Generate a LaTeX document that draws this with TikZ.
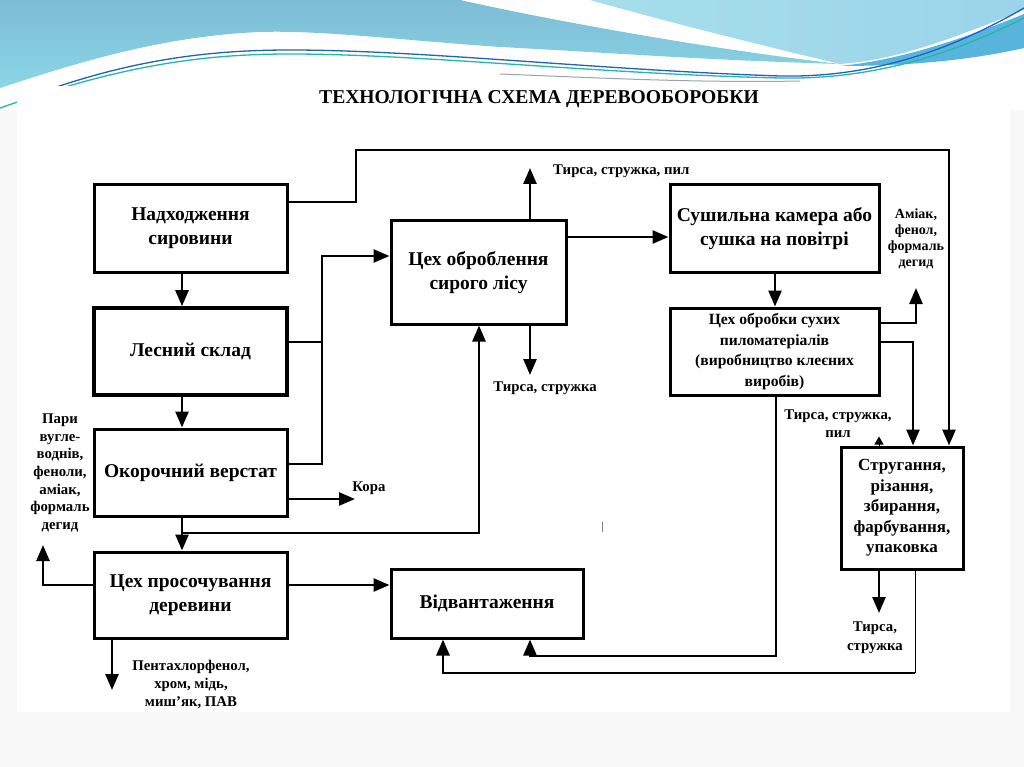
\documentclass[tikz,border=0pt]{standalone}
\usepackage{fontspec}
\setmainfont{Liberation Serif}
\usetikzlibrary{arrows.meta}
\newcommand\fntbig{\fontsize{19.5}{24}\selectfont\bfseries}
\newcommand\fntmid{\fontsize{15.6}{20.5}\selectfont\bfseries}
\newcommand\fntstr{\fontsize{17}{20.5}\selectfont\bfseries}
\newcommand\fntsm{\fontsize{14.8}{17.6}\selectfont\bfseries}
\newcommand\fntsmb{\fontsize{14}{15.8}\selectfont\bfseries}
\newcommand\fntttl{\fontsize{19.6}{24}\selectfont\bfseries}
\definecolor{wblueA}{HTML}{7DBCD6}
\definecolor{wblueB}{HTML}{8AD6E5}
\definecolor{wcyanA}{HTML}{A6DFEA}
\definecolor{wcyanB}{HTML}{9BD3EA}
\definecolor{wband}{HTML}{58B4DC}
\definecolor{wline}{HTML}{1E63C0}
\definecolor{wteal}{HTML}{22B8A8}
\definecolor{wgray}{HTML}{9AA4A8}
\definecolor{pagebg}{HTML}{F8F8F8}
\begin{document}
\begin{tikzpicture}[x=1pt,y=-1pt,
  box/.style={draw, line width=3pt, align=center, inner sep=0pt, font=\fntbig},
  arr/.style={line width=2.6pt, -{Triangle[length=16pt,width=13pt]}},
  ln/.style={line width=2.6pt},
  lbl/.style={align=center, inner sep=0pt, font=\fntsm}]
\useasboundingbox (0,0) rectangle (1024,767);
% background
\fill[pagebg] (0,0) rectangle (1024,767);
\fill[white] (0,0) rectangle (1024,110);
\shade[top color=wblueA, bottom color=wblueB]
  (0,0) -- (460,0) .. controls (540,18) and (700,48) .. (840,64)
  .. controls (700,60) and (600,52) .. (500,47)
  .. controls (400,40) and (320,30) .. (260,32)
  .. controls (160,36) and (70,65) .. (0,88) -- cycle;
\shade[left color=wcyanA, right color=wcyanB]
  (590,0) -- (1024,0) -- (1024,10) .. controls (960,35) and (900,60) .. (840,64)
  .. controls (760,45) and (660,20) .. (590,0) -- cycle;
\fill[wband]
  (1024,14) .. controls (960,40) and (900,60) .. (840,66)
  .. controls (920,66) and (980,58) .. (1024,48) -- cycle;
\draw[wline, line width=1.3pt]
  (20,100) .. controls (120,62) and (200,50) .. (290,50)
  .. controls (420,50) and (600,70) .. (780,76)
  .. controls (880,78) and (960,45) .. (1024,8);
\draw[wteal, line width=1.3pt]
  (0,108) .. controls (120,66) and (200,54) .. (290,54)
  .. controls (420,54) and (600,74) .. (780,78)
  .. controls (880,80) and (960,50) .. (1024,18);
\draw[wgray, line width=1pt]
  (500,74) .. controls (600,78) and (700,83) .. (800,81);
\fill[white] (17,86) rectangle (1010,712);
% title
\node[font=\fntttl] (title) at (539,99) {ТЕХНОЛОГІЧНА СХЕМА ДЕРЕВООБОРОБКИ};
% boxes
\node[box, minimum width=193pt, minimum height=87pt] (n1) at (190.5,228.5) {Надходження\\сировини};
\node[box, line width=3.6pt, minimum width=193pt, minimum height=87pt] (n2) at (190.5,351.5) {Лесний склад};
\node[box, minimum width=193pt, minimum height=87pt] (n3) at (190.5,472.5) {Окорочний верстат};
\node[box, minimum width=193pt, minimum height=86pt] (n4) at (190.5,595) {Цех просочування\\деревини};
\node[box, minimum width=175pt, minimum height=103pt] (n5) at (478.5,272.5) {Цех оброблення\\сирого лісу};
\node[box, minimum width=209pt, minimum height=87pt] (n6) at (774.5,228.5) {Сушильна камера або\\сушка на повітрі};
\node[box, font=\fntmid, minimum width=209pt, minimum height=87pt] (n7) at (774.5,351.5) {Цех обробки сухих\\пиломатеріалів\\(виробництво клеєних\\виробів)};
\node[box, font=\fntstr, minimum width=122pt, minimum height=122pt] (n8) at (902,508) {Стругання,\\різання,\\збирання,\\фарбування,\\упаковка};
\node[box, minimum width=192pt, minimum height=69pt] (n9) at (487,603.5) {Відвантаження};
% labels
\node[lbl] (lpari) at (60,473) {Пари\\вугле-\\воднів,\\феноли,\\аміак,\\формаль\\дегид};
\node[lbl] (lpent) at (191,684.5) {Пентахлорфенол,\\хром, мідь,\\миш'як, ПАВ};
\node[lbl, anchor=west] (ltop) at (553,171) {Тирса, стружка, пил};
\node[lbl] (lbot) at (545,388) {Тирса, стружка};
\node[lbl] (lkora) at (369,488) {Кора};
\node[lbl, font=\fntsmb] (lamiak) at (916,239) {Аміак,\\фенол,\\формаль\\дегид};
\node[lbl] (lts) at (838,423.5) {Тирса, стружка,\\пил};
\node[lbl, font=\fontsize{14.8}{19}\selectfont\bfseries] (ltsb) at (875,637.5) {Тирса,\\стружка};
% free ends
\coordinate (ekora) at (355,499);
\coordinate (epari) at (43,545);
\coordinate (epent) at (112,690);
\coordinate (etop) at (530,168);
\coordinate (ebot) at (530,375);
\coordinate (eamiak) at (916,288);
\coordinate (ets) at (879,613);
\coordinate (j1) at (182,533);
% connectors
\draw[arr] ([yshift=26.5pt]n1.east) -| (356,150) -| ([xshift=47pt]n8.north);
\draw[arr] ([xshift=-8.5pt]n1.south) -- ([xshift=-8.5pt]n2.north);
\draw[ln] ([yshift=9.5pt]n2.east) -- (322,342);
\draw[arr] ([yshift=8.5pt]n3.east) -| (322,256) -- ([yshift=16.5pt]n5.west);
\draw[arr] ([xshift=-8.5pt]n2.south) -- ([xshift=-8.5pt]n3.north);
\draw[arr] ([yshift=-26.5pt]n3.east) -- (ekora);
\draw[arr] ([xshift=-8.5pt]n3.south) -- ([xshift=-8.5pt]n4.north);
\draw[arr] (j1) -| ([xshift=0.5pt]n5.south);
\draw[arr] ([yshift=10pt]n4.west) -| (epari);
\draw[arr] ([yshift=10pt]n4.east) -- ([yshift=18.5pt]n9.west);
\draw[arr] ([xshift=-78.5pt]n4.south) -- (epent);
\draw[arr] ([xshift=51.5pt]n5.north) -- (etop);
\draw[arr] ([xshift=51.5pt]n5.south) -- (ebot);
\draw[arr] ([yshift=35.5pt]n5.east) -- ([yshift=-8.5pt]n6.west);
\draw[arr] ([xshift=0.5pt]n6.south) -- ([xshift=0.5pt]n7.north);
\draw[arr] ([yshift=28.5pt]n7.east) -| (eamiak);
\draw[arr] ([yshift=9.5pt]n7.east) -| ([xshift=11pt]n8.north);
\draw[arr] ([xshift=1.5pt]n7.south) -- (776,656) -| ([xshift=43pt]n9.south);
\draw[arr] ([xshift=-23pt]n8.south) -- (ets);
\draw[line width=0.9pt] ([xshift=13pt]n8.south) -- (915,673);
\draw[arr] (915,673) -| ([xshift=-44pt]n9.south);
\draw[line width=1pt, -{Triangle[length=8pt,width=9pt]}] ([xshift=-23pt]n8.north) -- ++(0,-9);
\draw[gray, line width=0.8pt] (602,522) -- (602,532);
\end{tikzpicture}
\end{document}
